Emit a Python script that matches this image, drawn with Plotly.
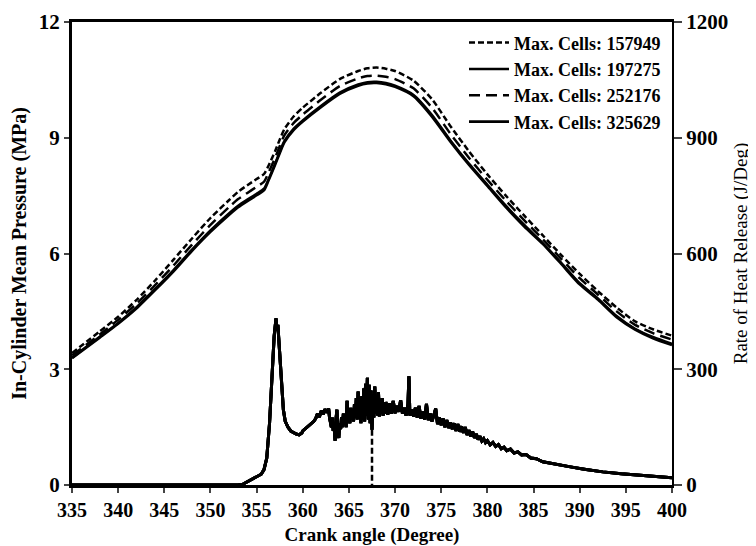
import plotly.graph_objects as go

# ---------------- data ----------------
crank_p = [335, 338, 340, 342, 344, 346, 348, 350, 352, 353, 354, 355, 355.8, 356.3, 357, 357.5,
           358, 359, 360, 362, 364, 366, 367, 368, 369, 370, 372, 374, 376, 378, 380, 382, 384, 386,
           388, 390, 392, 394, 396, 398, 400]

p_157949 = [3.42, 3.98, 4.36, 4.80, 5.30, 5.84, 6.39, 6.92, 7.38, 7.60, 7.77, 7.93, 8.06, 8.28, 8.65,
            8.95, 9.22, 9.55, 9.78, 10.17, 10.52, 10.73, 10.80, 10.82, 10.79, 10.73, 10.48, 10.00, 9.30,
            8.65, 8.05, 7.50, 6.98, 6.47, 5.96, 5.47, 5.02, 4.60, 4.24, 4.03, 3.87]
p_197275 = [3.30, 3.84, 4.20, 4.61, 5.08, 5.57, 6.10, 6.60, 7.04, 7.24, 7.40, 7.55, 7.68, 7.93, 8.33,
            8.63, 8.91, 9.23, 9.45, 9.83, 10.17, 10.38, 10.44, 10.45, 10.42, 10.35, 10.11, 9.59, 8.93,
            8.33, 7.78, 7.24, 6.74, 6.27, 5.76, 5.23, 4.83, 4.38, 4.05, 3.83, 3.66]
p_252176 = [3.36, 3.90, 4.28, 4.70, 5.18, 5.69, 6.23, 6.74, 7.20, 7.41, 7.57, 7.73, 7.86, 8.10, 8.48,
            8.78, 9.06, 9.38, 9.60, 9.99, 10.34, 10.54, 10.60, 10.61, 10.58, 10.52, 10.28, 9.78, 9.10,
            8.48, 7.91, 7.37, 6.86, 6.37, 5.86, 5.36, 4.93, 4.50, 4.15, 3.93, 3.77]
p_325629 = [3.29, 3.82, 4.18, 4.58, 5.05, 5.54, 6.07, 6.56, 7.00, 7.20, 7.36, 7.51, 7.64, 7.90, 8.30,
            8.60, 8.88, 9.20, 9.42, 9.80, 10.14, 10.35, 10.41, 10.42, 10.39, 10.32, 10.08, 9.55, 8.90,
            8.30, 7.75, 7.20, 6.70, 6.25, 5.73, 5.20, 4.80, 4.35, 4.03, 3.80, 3.63]

# rate of heat release: (crank angle, J/Deg)
hrr_points = [
    (335, 0), (350, 0), (353.0, 0), (353.5, 2), (354.0, 8), (354.5, 15), (355.0, 22), (355.5, 28),
    (355.8, 40), (356.1, 70), (356.4, 160), (356.7, 290), (356.9, 385), (357.1, 432), (357.2, 400),
    (357.3, 415), (357.5, 340), (357.7, 250), (357.9, 195), (358.1, 165), (358.4, 150), (358.7, 140),
    (359.0, 135), (359.3, 132), (359.6, 130), (359.9, 135), (360.0, 140), (360.3, 146), (360.6, 152),
    (360.9, 158), (361.2, 165), (361.4, 172), (361.6, 185), (361.8, 176), (362.0, 192), (362.2, 183),
    (362.4, 196), (362.6, 188), (362.8, 198), (362.9, 175),
    (363.0, 165), (363.1, 150), (363.2, 175), (363.3, 140), (363.4, 160), (363.5, 115), (363.6, 170),
    (363.7, 195), (363.8, 140), (363.9, 122), (364.0, 160), (364.1, 145), (364.2, 175), (364.3, 150),
    (364.4, 185), (364.5, 160), (364.6, 178), (364.7, 150), (364.8, 218), (364.9, 165), (365.0, 190),
    (365.1, 160), (365.2, 200), (365.3, 170), (365.4, 195), (365.5, 165), (365.6, 210), (365.7, 175),
    (365.8, 225), (365.9, 170), (366.0, 242), (366.1, 175), (366.2, 215), (366.3, 160), (366.4, 230),
    (366.5, 170), (366.6, 250), (366.7, 165), (366.8, 262), (366.9, 180), (367.0, 278), (367.1, 170),
    (367.2, 260), (367.3, 160), (367.4, 245), (367.5, 143), (367.6, 235), (367.7, 175), (367.8, 255),
    (367.9, 185), (368.0, 230), (368.1, 180), (368.2, 240), (368.3, 178), (368.4, 220), (368.5, 185),
    (368.6, 225), (368.7, 180), (368.8, 205), (368.9, 185), (369.0, 215),
    (369.2, 182), (369.4, 212), (369.6, 185), (369.8, 218), (370.0, 186), (370.2, 205), (370.4, 190),
    (370.6, 220), (370.8, 185), (371.0, 200), (371.2, 180), (371.4, 210), (371.5, 282), (371.6, 180),
    (371.8, 195), (372.0, 178), (372.2, 200), (372.4, 175), (372.6, 205), (372.8, 172), (373.0, 190),
    (373.2, 170), (373.4, 210), (373.6, 168), (373.8, 185), (374.0, 165), (374.2, 182), (374.4, 198),
    (374.6, 158), (374.8, 175), (375.0, 155), (375.2, 172), (375.4, 150), (375.6, 168), (375.8, 148),
    (376.0, 162), (376.2, 145), (376.4, 160), (376.6, 140), (376.8, 158), (377.0, 138), (377.2, 152),
    (377.4, 135), (377.6, 150), (377.8, 130), (378.0, 142), (378.2, 126), (378.4, 138), (378.6, 122),
    (378.8, 132), (379.0, 118), (379.2, 126), (379.4, 114), (379.6, 120), (379.8, 110), (380.0, 115),
    (380.3, 104), (380.6, 110), (380.9, 100), (381.2, 105), (381.5, 94), (381.8, 98), (382.1, 89),
    (382.5, 93), (382.9, 83), (383.3, 86), (383.7, 78), (384.2, 79), (384.7, 70), (385.3, 68),
    (386.0, 60), (387.5, 53), (389.0, 47), (390.5, 41), (392.5, 34), (394.5, 29), (396.5, 25),
    (398.5, 21), (400, 19),
]
crank_hrr = [a for a, _ in hrr_points]
hrr_values = [v for _, v in hrr_points]

dip_angle = [367.5, 367.5]
dip_values = [143, 0]

series_names = ["Max. Cells: 157949", "Max. Cells: 197275", "Max. Cells: 252176", "Max. Cells: 325629"]
x_ticks = [335, 340, 345, 350, 355, 360, 365, 370, 375, 380, 385, 390, 395, 400]
y1_ticks = [0, 3, 6, 9, 12]
y2_ticks = [0, 300, 600, 900, 1200]

# ---------------- figure ----------------
FONT = "Liberation Serif"
pressure = [p_157949, p_197275, p_252176, p_325629]
dashes = ["6px,3px", "solid", "11px,6px", "solid"]
widths = [2.5, 2.5, 2.5, 2.7]

fig = go.Figure()
for name, vals, d, w in zip(series_names, pressure, dashes, widths):
    fig.add_trace(go.Scatter(x=crank_p, y=vals, name=name, mode="lines",
                             line=dict(color="black", width=w, dash=d, shape="spline", smoothing=0.6),
                             legendgroup=name))
for name in series_names:
    fig.add_trace(go.Scatter(x=crank_hrr, y=hrr_values, yaxis="y2", mode="lines", showlegend=False,
                             line=dict(color="black", width=3), legendgroup=name))
fig.add_trace(go.Scatter(x=dip_angle, y=dip_values, yaxis="y2", mode="lines", showlegend=False,
                         line=dict(color="black", width=2.5, dash="6px,3px"), legendgroup=series_names[0]))

fig.update_layout(
    width=748, height=538,
    margin=dict(l=64, r=84, t=14, b=61, autoexpand=False),
    paper_bgcolor="white", plot_bgcolor="white",
    font=dict(family=FONT, color="black", size=19),
    showlegend=True,
    legend=dict(x=0.99, y=0.995, xanchor="right", yanchor="top", bgcolor="rgba(255,255,255,0)",
                font=dict(family=FONT, size=18, weight="bold"), tracegroupgap=0, itemwidth=40),
    xaxis=dict(range=[335, 400], tickvals=x_ticks, ticks="outside", ticklen=5, tickwidth=1.5,
               tickfont=dict(family=FONT, size=20, weight="bold"),
               showline=True, linewidth=3, linecolor="black", mirror=True, showgrid=False, zeroline=False,
               title=dict(text="Crank angle (Degree)", font=dict(family=FONT, size=19, weight="bold"), standoff=8)),
    yaxis=dict(range=[0, 12], tickvals=y1_ticks, ticks="outside", ticklen=5, tickwidth=1.5,
               tickfont=dict(family=FONT, size=21, weight="bold"),
               showline=True, linewidth=3, linecolor="black", showgrid=False, zeroline=False,
               title=dict(text="In-Cylinder Mean Pressure (MPa)", font=dict(family=FONT, size=20, weight="bold"), standoff=12)),
    yaxis2=dict(range=[0, 1200], tickvals=y2_ticks, overlaying="y", side="right", ticks="outside",
                ticklen=8, tickwidth=1.5, tickfont=dict(family=FONT, size=21, weight="bold"),
                showline=True, linewidth=2, linecolor="black", showgrid=False, zeroline=False,
                title=dict(text="Rate of Heat Release (J/Deg)", font=dict(family=FONT, size=19), standoff=6)),
)

fig.write_html("out.html")
